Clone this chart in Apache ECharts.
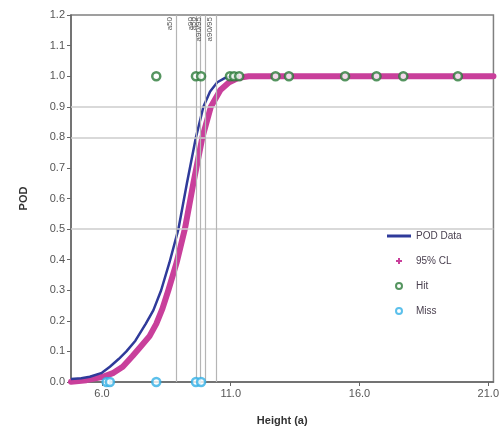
<!DOCTYPE html>
<html><head><meta charset="utf-8">
<script src="https://cdn.jsdelivr.net/npm/echarts@6/dist/echarts.min.js"></script>
<style>html,body{margin:0;padding:0;background:#fff}#c{width:502px;height:432px}</style>
</head><body><div id="c"></div>
<script>
const xTicks = [6, 11, 16, 21];
const podX = [4.8, 5.2, 5.53, 6.0, 6.31, 6.65, 6.95, 7.3, 7.7, 8.0, 8.3, 8.62, 8.97, 9.3, 9.65, 9.94, 10.2, 10.48, 10.75, 11.0, 11.3];
const podY = [0.01, 0.012, 0.017, 0.03, 0.05, 0.075, 0.10, 0.135, 0.19, 0.235, 0.30, 0.39, 0.50, 0.65, 0.80, 0.90, 0.95, 0.98, 0.993, 0.998, 1.0];
const clX = [4.8, 5.4, 6.04, 6.45, 6.81, 7.19, 7.5, 7.85, 8.11, 8.35, 8.58, 8.9, 9.22, 9.55, 9.9, 10.23, 10.6, 10.94, 11.3, 11.7, 21.2];
const clY = [0.001, 0.006, 0.017, 0.03, 0.05, 0.085, 0.115, 0.15, 0.19, 0.24, 0.30, 0.39, 0.50, 0.65, 0.80, 0.90, 0.955, 0.98, 0.995, 1.0, 1.0];
const hitX = [8.11, 9.65, 9.85, 10.97, 11.13, 11.33, 12.74, 13.26, 15.44, 16.66, 17.70, 19.82];
const missX = [6.18, 6.31, 8.11, 9.65, 9.85];
const vLines = [8.87, 9.68, 9.80, 10.01, 10.43];
const vLabels = ['a50', 'a90', 'a50', 'a90/95', 'a90/95'];
const hLines = [0.5, 0.8, 0.9];

const chart = echarts.init(document.getElementById('c'));
chart.setOption({
  animation: false,
  grid: {left: 71, right: 7, top: 15, bottom: 50, show: true, borderColor: '#808080', borderWidth: 1.5, backgroundColor: 'transparent'},
  xAxis: {
    type: 'value', min: 4.8, max: 21.2,
    name: 'Height (a)', nameLocation: 'middle', nameGap: 33,
    nameTextStyle: {fontFamily: 'Liberation Sans', fontWeight: 'bold', fontSize: 11, color: '#333'},
    axisLine: {show: true, lineStyle: {color: '#666', width: 1.5}},
    axisTick: {show: true, customValues: xTicks, length: 4, lineStyle: {color: '#666'}},
    axisLabel: {customValues: xTicks, formatter: v => v.toFixed(1), fontFamily: 'Liberation Sans', fontSize: 11, color: '#555', margin: 6},
    splitLine: {show: false}
  },
  yAxis: {
    type: 'value', min: 0, max: 1.2, interval: 0.1,
    name: 'POD', nameLocation: 'middle', nameGap: 42,
    nameTextStyle: {fontFamily: 'Liberation Sans', fontWeight: 'bold', fontSize: 11, color: '#333'},
    axisLine: {show: true, lineStyle: {color: '#666', width: 1.5}},
    axisTick: {show: true, length: 4, lineStyle: {color: '#666'}},
    axisLabel: {formatter: v => v.toFixed(1), fontFamily: 'Liberation Sans', fontSize: 11, color: '#555', margin: 6},
    splitLine: {show: false}
  },
  legend: {
    left: 365, top: 217, width: 150, orient: 'vertical', itemGap: 15,
    backgroundColor: '#fff', padding: [14, 30, 14, 22],
    itemWidth: 24, itemHeight: 6,
    textStyle: {fontFamily: 'Liberation Sans', fontSize: 10, color: '#4a4050'},
    data: [
      {name: 'POD Data', icon: 'path://M0,0H24V3H0Z', itemStyle: {color: '#2f3a9a'}},
      {name: '95% CL', icon: 'path://M2,0H4V2H6V4H4V6H2V4H0V2H2Z', itemStyle: {color: '#c93f9b'}},
      {name: 'Hit', icon: 'circle'},
      {name: 'Miss', icon: 'circle'}
    ]
  },
  series: [
    {
      name: 'guides', type: 'line', data: [], silent: true,
      markLine: {
        silent: true, symbol: 'none', animation: false,
        data: hLines.map(v => ({yAxis: v, lineStyle: {color: '#cccccc', width: 1.5, type: 'solid'}, label: {show: false}}))
          .concat(vLines.map((v, i) => ({xAxis: v, lineStyle: {color: '#b5b5b5', width: 1.2, type: 'solid'},
            label: {show: true, formatter: vLabels[i], position: 'insideEndTop', fontSize: 8, color: '#555', distance: 2, fontFamily: 'Liberation Sans'}})))
      }
    },
    {
      name: '95% CL', type: 'line', smooth: false, showSymbol: false,
      data: clX.map((x, i) => [x, clY[i]]),
      lineStyle: {color: '#c93f9b', width: 6, join: 'round', cap: 'round'}, itemStyle: {color: '#c93f9b'}, z: 3
    },
    {
      name: 'POD Data', type: 'line', smooth: false, showSymbol: false,
      data: podX.map((x, i) => [x, podY[i]]),
      lineStyle: {color: '#2f3a9a', width: 2.5, join: 'round'}, itemStyle: {color: '#2f3a9a'}, z: 4
    },
    {
      name: 'Hit', type: 'scatter', symbol: 'circle', symbolSize: 8,
      data: hitX.map(x => [x, 1.0]),
      itemStyle: {color: '#fff', borderColor: '#2b7a38', borderWidth: 2.5}, z: 5
    },
    {
      name: 'Miss', type: 'scatter', symbol: 'circle', symbolSize: 8,
      data: missX.map(x => [x, 0.0]),
      itemStyle: {color: '#fff', borderColor: '#33b0e6', borderWidth: 2.5}, z: 5, clip: false
    }
  ]
});
</script></body></html>
